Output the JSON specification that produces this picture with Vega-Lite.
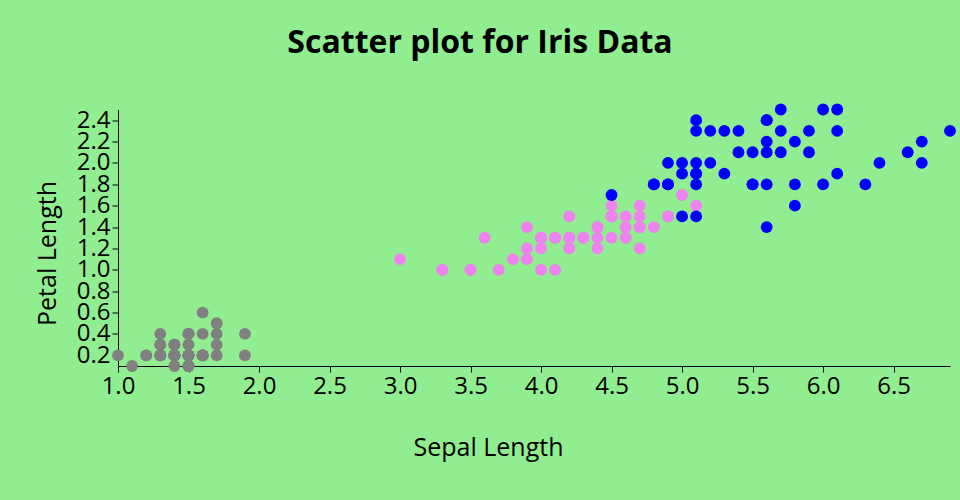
{
  "$schema": "https://vega.github.io/schema/vega-lite/v6.json",
  "width": 832,
  "height": 256.5,
  "autosize": "none",
  "padding": {"left": 118, "top": 109.5, "right": 10, "bottom": 134},
  "background": "#90EE90",
  "title": {"text": "Scatter plot for Iris Data", "font": "Open Sans", "fontSize": 32, "fontWeight": "bold", "color": "black", "anchor": "middle", "dx": -54, "offset": 44},
  "data": {"values": [
    {"pl":1.4,"pw":0.2,"s":"setosa"},{"pl":1.4,"pw":0.2,"s":"setosa"},{"pl":1.3,"pw":0.2,"s":"setosa"},{"pl":1.5,"pw":0.2,"s":"setosa"},{"pl":1.4,"pw":0.2,"s":"setosa"},
    {"pl":1.7,"pw":0.4,"s":"setosa"},{"pl":1.4,"pw":0.3,"s":"setosa"},{"pl":1.5,"pw":0.2,"s":"setosa"},{"pl":1.4,"pw":0.2,"s":"setosa"},{"pl":1.5,"pw":0.1,"s":"setosa"},
    {"pl":1.5,"pw":0.2,"s":"setosa"},{"pl":1.6,"pw":0.2,"s":"setosa"},{"pl":1.4,"pw":0.1,"s":"setosa"},{"pl":1.1,"pw":0.1,"s":"setosa"},{"pl":1.2,"pw":0.2,"s":"setosa"},
    {"pl":1.5,"pw":0.4,"s":"setosa"},{"pl":1.3,"pw":0.4,"s":"setosa"},{"pl":1.4,"pw":0.3,"s":"setosa"},{"pl":1.7,"pw":0.3,"s":"setosa"},{"pl":1.5,"pw":0.3,"s":"setosa"},
    {"pl":1.7,"pw":0.2,"s":"setosa"},{"pl":1.5,"pw":0.4,"s":"setosa"},{"pl":1.0,"pw":0.2,"s":"setosa"},{"pl":1.7,"pw":0.5,"s":"setosa"},{"pl":1.9,"pw":0.2,"s":"setosa"},
    {"pl":1.6,"pw":0.2,"s":"setosa"},{"pl":1.6,"pw":0.4,"s":"setosa"},{"pl":1.5,"pw":0.2,"s":"setosa"},{"pl":1.4,"pw":0.2,"s":"setosa"},{"pl":1.6,"pw":0.2,"s":"setosa"},
    {"pl":1.6,"pw":0.2,"s":"setosa"},{"pl":1.5,"pw":0.4,"s":"setosa"},{"pl":1.5,"pw":0.1,"s":"setosa"},{"pl":1.4,"pw":0.2,"s":"setosa"},{"pl":1.5,"pw":0.1,"s":"setosa"},
    {"pl":1.2,"pw":0.2,"s":"setosa"},{"pl":1.3,"pw":0.2,"s":"setosa"},{"pl":1.5,"pw":0.1,"s":"setosa"},{"pl":1.3,"pw":0.2,"s":"setosa"},{"pl":1.5,"pw":0.2,"s":"setosa"},
    {"pl":1.3,"pw":0.3,"s":"setosa"},{"pl":1.3,"pw":0.3,"s":"setosa"},{"pl":1.3,"pw":0.2,"s":"setosa"},{"pl":1.6,"pw":0.6,"s":"setosa"},{"pl":1.9,"pw":0.4,"s":"setosa"},
    {"pl":1.4,"pw":0.3,"s":"setosa"},{"pl":1.6,"pw":0.2,"s":"setosa"},{"pl":1.4,"pw":0.2,"s":"setosa"},{"pl":1.5,"pw":0.2,"s":"setosa"},{"pl":1.4,"pw":0.2,"s":"setosa"},
    {"pl":4.7,"pw":1.4,"s":"versicolor"},{"pl":4.5,"pw":1.5,"s":"versicolor"},{"pl":4.9,"pw":1.5,"s":"versicolor"},{"pl":4.0,"pw":1.3,"s":"versicolor"},{"pl":4.6,"pw":1.5,"s":"versicolor"},
    {"pl":4.5,"pw":1.3,"s":"versicolor"},{"pl":4.7,"pw":1.6,"s":"versicolor"},{"pl":3.3,"pw":1.0,"s":"versicolor"},{"pl":4.6,"pw":1.3,"s":"versicolor"},{"pl":3.9,"pw":1.4,"s":"versicolor"},
    {"pl":3.5,"pw":1.0,"s":"versicolor"},{"pl":4.2,"pw":1.5,"s":"versicolor"},{"pl":4.0,"pw":1.0,"s":"versicolor"},{"pl":4.7,"pw":1.4,"s":"versicolor"},{"pl":3.6,"pw":1.3,"s":"versicolor"},
    {"pl":4.4,"pw":1.4,"s":"versicolor"},{"pl":4.5,"pw":1.5,"s":"versicolor"},{"pl":4.1,"pw":1.0,"s":"versicolor"},{"pl":4.5,"pw":1.5,"s":"versicolor"},{"pl":3.9,"pw":1.1,"s":"versicolor"},
    {"pl":4.8,"pw":1.8,"s":"versicolor"},{"pl":4.0,"pw":1.3,"s":"versicolor"},{"pl":4.9,"pw":1.5,"s":"versicolor"},{"pl":4.7,"pw":1.2,"s":"versicolor"},{"pl":4.3,"pw":1.3,"s":"versicolor"},
    {"pl":4.4,"pw":1.4,"s":"versicolor"},{"pl":4.8,"pw":1.4,"s":"versicolor"},{"pl":5.0,"pw":1.7,"s":"versicolor"},{"pl":4.5,"pw":1.5,"s":"versicolor"},{"pl":3.5,"pw":1.0,"s":"versicolor"},
    {"pl":3.8,"pw":1.1,"s":"versicolor"},{"pl":3.7,"pw":1.0,"s":"versicolor"},{"pl":3.9,"pw":1.2,"s":"versicolor"},{"pl":5.1,"pw":1.6,"s":"versicolor"},{"pl":4.5,"pw":1.5,"s":"versicolor"},
    {"pl":4.5,"pw":1.6,"s":"versicolor"},{"pl":4.7,"pw":1.5,"s":"versicolor"},{"pl":4.4,"pw":1.3,"s":"versicolor"},{"pl":4.1,"pw":1.3,"s":"versicolor"},{"pl":4.0,"pw":1.3,"s":"versicolor"},
    {"pl":4.4,"pw":1.2,"s":"versicolor"},{"pl":4.6,"pw":1.4,"s":"versicolor"},{"pl":4.0,"pw":1.2,"s":"versicolor"},{"pl":3.3,"pw":1.0,"s":"versicolor"},{"pl":4.2,"pw":1.3,"s":"versicolor"},
    {"pl":4.2,"pw":1.2,"s":"versicolor"},{"pl":4.2,"pw":1.3,"s":"versicolor"},{"pl":4.3,"pw":1.3,"s":"versicolor"},{"pl":3.0,"pw":1.1,"s":"versicolor"},{"pl":4.1,"pw":1.3,"s":"versicolor"},
    {"pl":6.0,"pw":2.5,"s":"virginica"},{"pl":5.1,"pw":1.9,"s":"virginica"},{"pl":5.9,"pw":2.1,"s":"virginica"},{"pl":5.6,"pw":1.8,"s":"virginica"},{"pl":5.8,"pw":2.2,"s":"virginica"},
    {"pl":6.6,"pw":2.1,"s":"virginica"},{"pl":4.5,"pw":1.7,"s":"virginica"},{"pl":6.3,"pw":1.8,"s":"virginica"},{"pl":5.8,"pw":1.8,"s":"virginica"},{"pl":6.1,"pw":2.5,"s":"virginica"},
    {"pl":5.1,"pw":2.0,"s":"virginica"},{"pl":5.3,"pw":1.9,"s":"virginica"},{"pl":5.5,"pw":2.1,"s":"virginica"},{"pl":5.0,"pw":2.0,"s":"virginica"},{"pl":5.1,"pw":2.4,"s":"virginica"},
    {"pl":5.3,"pw":2.3,"s":"virginica"},{"pl":5.5,"pw":1.8,"s":"virginica"},{"pl":6.7,"pw":2.2,"s":"virginica"},{"pl":6.9,"pw":2.3,"s":"virginica"},{"pl":5.0,"pw":1.5,"s":"virginica"},
    {"pl":5.7,"pw":2.3,"s":"virginica"},{"pl":4.9,"pw":2.0,"s":"virginica"},{"pl":6.7,"pw":2.0,"s":"virginica"},{"pl":4.9,"pw":1.8,"s":"virginica"},{"pl":5.7,"pw":2.1,"s":"virginica"},
    {"pl":6.0,"pw":1.8,"s":"virginica"},{"pl":4.8,"pw":1.8,"s":"virginica"},{"pl":4.9,"pw":1.8,"s":"virginica"},{"pl":5.6,"pw":2.1,"s":"virginica"},{"pl":5.8,"pw":1.6,"s":"virginica"},
    {"pl":6.1,"pw":1.9,"s":"virginica"},{"pl":6.4,"pw":2.0,"s":"virginica"},{"pl":5.6,"pw":2.2,"s":"virginica"},{"pl":5.1,"pw":1.5,"s":"virginica"},{"pl":5.6,"pw":1.4,"s":"virginica"},
    {"pl":6.1,"pw":2.3,"s":"virginica"},{"pl":5.6,"pw":2.4,"s":"virginica"},{"pl":5.5,"pw":1.8,"s":"virginica"},{"pl":4.8,"pw":1.8,"s":"virginica"},{"pl":5.4,"pw":2.1,"s":"virginica"},
    {"pl":5.6,"pw":2.4,"s":"virginica"},{"pl":5.1,"pw":2.3,"s":"virginica"},{"pl":5.1,"pw":1.9,"s":"virginica"},{"pl":5.9,"pw":2.3,"s":"virginica"},{"pl":5.7,"pw":2.5,"s":"virginica"},
    {"pl":5.2,"pw":2.3,"s":"virginica"},{"pl":5.0,"pw":1.9,"s":"virginica"},{"pl":5.2,"pw":2.0,"s":"virginica"},{"pl":5.4,"pw":2.3,"s":"virginica"},{"pl":5.1,"pw":1.8,"s":"virginica"}
  ]},
  "mark": {"type": "circle", "size": 140, "opacity": 1},
  "encoding": {
    "x": {"field": "pl", "type": "quantitative", "scale": {"domain": [1.0, 6.9], "nice": false, "zero": false},
      "axis": {"title": "Sepal Length", "values": [1.0,1.5,2.0,2.5,3.0,3.5,4.0,4.5,5.0,5.5,6.0,6.5], "format": ".1f", "grid": false,
        "titleX": 370, "titleY": 81, "titleBaseline": "middle"}},
    "y": {"field": "pw", "type": "quantitative", "scale": {"domain": [0.1, 2.5], "nice": false, "zero": false},
      "axis": {"title": "Petal Length", "values": [0.2,0.4,0.6,0.8,1.0,1.2,1.4,1.6,1.8,2.0,2.2,2.4], "format": ".1f", "grid": false,
        "titleX": -71, "titleY": 143.5, "titleBaseline": "middle"}},
    "color": {"field": "s", "type": "nominal", "scale": {"domain": ["setosa","versicolor","virginica"], "range": ["gray","violet","blue"]}, "legend": null}
  },
  "config": {
    "view": {"stroke": null},
    "font": "Open Sans",
    "axis": {"domainColor": "black", "tickColor": "black", "labelColor": "black", "titleColor": "black", "labelFont": "Open Sans", "titleFont": "Open Sans", "labelFontSize": 24, "titleFontSize": 25, "titleFontWeight": "normal", "labelPadding": 2, "tickSize": 6, "labelFlush": false, "labelOverlap": false}
  }
}
